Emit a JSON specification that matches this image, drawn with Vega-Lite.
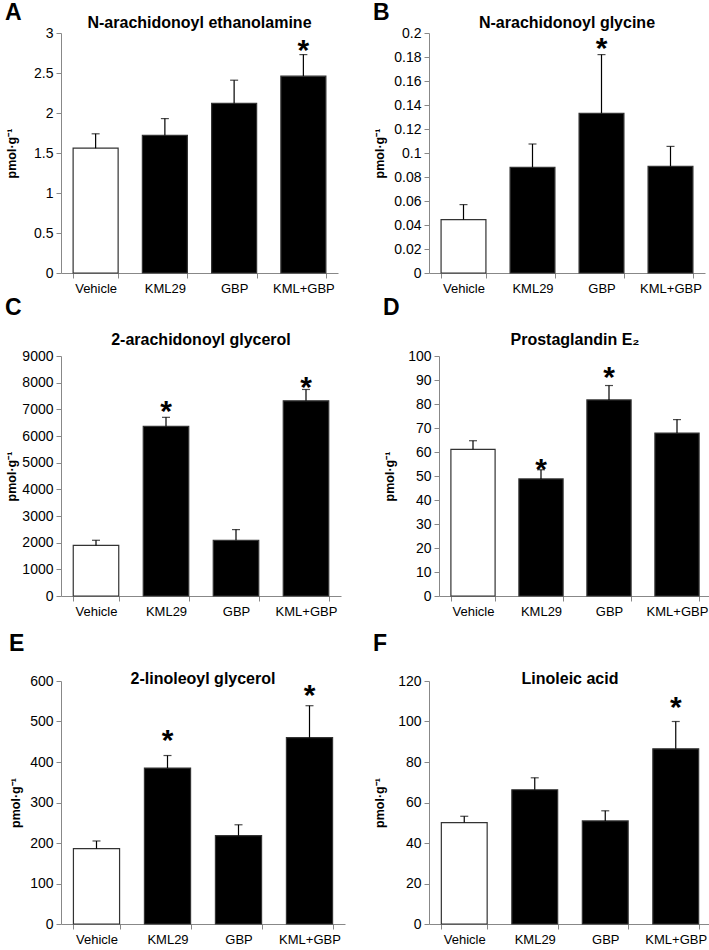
{
  "$schema": "https://vega.github.io/schema/vega-lite/v6.json",
  "padding": {"left": 5, "top": 2, "right": 0, "bottom": 0},
  "config": {
    "font": "Liberation Sans",
    "view": {"stroke": null},
    "axis": {"domainColor": "#888888", "tickColor": "#888888", "labelColor": "#000000", "labelFontSize": 14, "tickSize": 5, "grid": false, "domainWidth": 1, "tickWidth": 1, "labelOverlap": false},
    "axisX": {"labelAngle": 0, "labelFontSize": 13, "tickBand": "extent", "labelPadding": 4},
    "axisY": {"titleFontSize": 12.5, "titleFontWeight": "bold", "titleColor": "#000000", "labelPadding": 3, "minExtent": 40, "maxExtent": 40, "titlePadding": 3, "format": "~r", "labelFlush": false},
    "title": {"fontSize": 16, "fontWeight": "bold", "color": "#000000"}
  },
  "datasets": {
    "d": [
      {"panel": "A", "group": "Vehicle", "value": 1.56, "err": 1.74, "star": null},
      {"panel": "A", "group": "KML29", "value": 1.72, "err": 1.93, "star": null},
      {"panel": "A", "group": "GBP", "value": 2.12, "err": 2.41, "star": null},
      {"panel": "A", "group": "KML+GBP", "value": 2.46, "err": 2.73, "star": 2.87},
      {"panel": "B", "group": "Vehicle", "value": 0.0445, "err": 0.057, "star": null},
      {"panel": "B", "group": "KML29", "value": 0.088, "err": 0.1075, "star": null},
      {"panel": "B", "group": "GBP", "value": 0.133, "err": 0.182, "star": 0.193},
      {"panel": "B", "group": "KML+GBP", "value": 0.0888, "err": 0.1055, "star": null},
      {"panel": "C", "group": "Vehicle", "value": 1895, "err": 2090, "star": null},
      {"panel": "C", "group": "KML29", "value": 6360, "err": 6700, "star": 7190},
      {"panel": "C", "group": "GBP", "value": 2090, "err": 2490, "star": null},
      {"panel": "C", "group": "KML+GBP", "value": 7320, "err": 7745, "star": 8100},
      {"panel": "D", "group": "Vehicle", "value": 61.1, "err": 64.7, "star": null},
      {"panel": "D", "group": "KML29", "value": 48.8, "err": 52.6, "star": 56},
      {"panel": "D", "group": "GBP", "value": 81.7, "err": 87.7, "star": 94},
      {"panel": "D", "group": "KML+GBP", "value": 67.9, "err": 73.5, "star": null},
      {"panel": "E", "group": "Vehicle", "value": 186, "err": 205, "star": null},
      {"panel": "E", "group": "KML29", "value": 385, "err": 416, "star": 472},
      {"panel": "E", "group": "GBP", "value": 218, "err": 245, "star": null},
      {"panel": "E", "group": "KML+GBP", "value": 460, "err": 539, "star": 582},
      {"panel": "F", "group": "Vehicle", "value": 50.1, "err": 53.2, "star": null},
      {"panel": "F", "group": "KML29", "value": 66.3, "err": 72.2, "star": null},
      {"panel": "F", "group": "GBP", "value": 50.9, "err": 55.9, "star": null},
      {"panel": "F", "group": "KML+GBP", "value": 86.5, "err": 100, "star": 110.6}
    ]
  },
  "spacing": 2,
  "vconcat": [
    {
      "spacing": 35,
      "hconcat": [
        {
          "title": {"text": "A", "anchor": "start", "frame": "bounds", "fontSize": 23, "offset": -10},
          "vconcat": [{
            "title": {"text": "N-arachidonoyl ethanolamine", "offset": -5},
            "width": 277, "height": 240,
            "data": {"name": "d"},
            "transform": [{"filter": "datum.panel == 'A'"}],
            "encoding": {"x": {"field": "group", "type": "nominal", "sort": ["Vehicle", "KML29", "GBP", "KML+GBP"], "scale": {"paddingInner": 0.35, "paddingOuter": 0.175}, "axis": {"title": null, "labelOverlap": false}}},
            "layer": [
              {"mark": {"type": "bar", "stroke": "#333333", "strokeWidth": 1.2}, "encoding": {"y": {"field": "value", "type": "quantitative", "title": "pmol·g⁻¹", "scale": {"domain": [0, 3], "nice": false}, "axis": {"values": [0, 0.5, 1, 1.5, 2, 2.5, 3], "tickCount": 30, "labelOverlap": false}}, "fill": {"condition": {"test": "datum.group == 'Vehicle'", "value": "#ffffff"}, "value": "#000000"}}},
              {"mark": {"type": "rule", "color": "#000000", "strokeWidth": 1.2}, "encoding": {"y": {"field": "value", "type": "quantitative", "title": "pmol·g⁻¹"}, "y2": {"field": "err"}}},
              {"mark": {"type": "tick", "color": "#000000", "thickness": 1.2, "size": 8}, "encoding": {"y": {"field": "err", "type": "quantitative", "title": "pmol·g⁻¹"}}},
              {"transform": [{"filter": "datum.star != null"}], "mark": {"type": "text", "text": "*", "fontSize": 30, "fontWeight": "bold", "baseline": "middle", "dy": 8}, "encoding": {"y": {"field": "star", "type": "quantitative", "title": "pmol·g⁻¹"}}}
            ]
          }]
        },
        {
          "title": {"text": "B", "anchor": "start", "frame": "bounds", "fontSize": 23, "offset": -10},
          "vconcat": [{
            "title": {"text": "N-arachidonoyl glycine", "offset": -5},
            "width": 276, "height": 240,
            "data": {"name": "d"},
            "transform": [{"filter": "datum.panel == 'B'"}],
            "encoding": {"x": {"field": "group", "type": "nominal", "sort": ["Vehicle", "KML29", "GBP", "KML+GBP"], "scale": {"paddingInner": 0.35, "paddingOuter": 0.175}, "axis": {"title": null, "labelOverlap": false}}},
            "layer": [
              {"mark": {"type": "bar", "stroke": "#333333", "strokeWidth": 1.2}, "encoding": {"y": {"field": "value", "type": "quantitative", "title": "pmol·g⁻¹", "scale": {"domain": [0, 0.2], "nice": false}, "axis": {"values": [0, 0.02, 0.04, 0.06, 0.08, 0.1, 0.12, 0.14, 0.16, 0.18, 0.2], "tickCount": 30, "labelOverlap": false}}, "fill": {"condition": {"test": "datum.group == 'Vehicle'", "value": "#ffffff"}, "value": "#000000"}}},
              {"mark": {"type": "rule", "color": "#000000", "strokeWidth": 1.2}, "encoding": {"y": {"field": "value", "type": "quantitative", "title": "pmol·g⁻¹"}, "y2": {"field": "err"}}},
              {"mark": {"type": "tick", "color": "#000000", "thickness": 1.2, "size": 8}, "encoding": {"y": {"field": "err", "type": "quantitative", "title": "pmol·g⁻¹"}}},
              {"transform": [{"filter": "datum.star != null"}], "mark": {"type": "text", "text": "*", "fontSize": 30, "fontWeight": "bold", "baseline": "middle", "dy": 8}, "encoding": {"y": {"field": "star", "type": "quantitative", "title": "pmol·g⁻¹"}}}
            ]
          }]
        }
      ]
    },
    {
      "spacing": 42,
      "hconcat": [
        {
          "title": {"text": "C", "anchor": "start", "frame": "bounds", "fontSize": 23, "offset": 12},
          "vconcat": [{
            "title": {"text": "2-arachidonoyl glycerol", "offset": 1},
            "width": 280, "height": 240,
            "data": {"name": "d"},
            "transform": [{"filter": "datum.panel == 'C'"}],
            "encoding": {"x": {"field": "group", "type": "nominal", "sort": ["Vehicle", "KML29", "GBP", "KML+GBP"], "scale": {"paddingInner": 0.35, "paddingOuter": 0.175}, "axis": {"title": null, "minExtent": 35, "labelOverlap": false}}},
            "layer": [
              {"mark": {"type": "bar", "stroke": "#333333", "strokeWidth": 1.2}, "encoding": {"y": {"field": "value", "type": "quantitative", "title": "pmol·g⁻¹", "scale": {"domain": [0, 9000], "nice": false}, "axis": {"values": [0, 1000, 2000, 3000, 4000, 5000, 6000, 7000, 8000, 9000], "tickCount": 30, "labelOverlap": false}}, "fill": {"condition": {"test": "datum.group == 'Vehicle'", "value": "#ffffff"}, "value": "#000000"}}},
              {"mark": {"type": "rule", "color": "#000000", "strokeWidth": 1.2}, "encoding": {"y": {"field": "value", "type": "quantitative", "title": "pmol·g⁻¹"}, "y2": {"field": "err"}}},
              {"mark": {"type": "tick", "color": "#000000", "thickness": 1.2, "size": 8}, "encoding": {"y": {"field": "err", "type": "quantitative", "title": "pmol·g⁻¹"}}},
              {"transform": [{"filter": "datum.star != null"}], "mark": {"type": "text", "text": "*", "fontSize": 30, "fontWeight": "bold", "baseline": "middle", "dy": 8}, "encoding": {"y": {"field": "star", "type": "quantitative", "title": "pmol·g⁻¹"}}}
            ]
          }]
        },
        {
          "title": {"text": "D", "anchor": "start", "frame": "bounds", "fontSize": 23, "offset": 12},
          "vconcat": [{
            "title": {"text": "Prostaglandin E₂", "offset": 1},
            "width": 272, "height": 240,
            "data": {"name": "d"},
            "transform": [{"filter": "datum.panel == 'D'"}],
            "encoding": {"x": {"field": "group", "type": "nominal", "sort": ["Vehicle", "KML29", "GBP", "KML+GBP"], "scale": {"paddingInner": 0.35, "paddingOuter": 0.175}, "axis": {"title": null, "minExtent": 35, "labelOverlap": false}}},
            "layer": [
              {"mark": {"type": "bar", "stroke": "#333333", "strokeWidth": 1.2}, "encoding": {"y": {"field": "value", "type": "quantitative", "title": "pmol·g⁻¹", "scale": {"domain": [0, 100], "nice": false}, "axis": {"values": [0, 10, 20, 30, 40, 50, 60, 70, 80, 90, 100], "tickCount": 30, "labelOverlap": false}}, "fill": {"condition": {"test": "datum.group == 'Vehicle'", "value": "#ffffff"}, "value": "#000000"}}},
              {"mark": {"type": "rule", "color": "#000000", "strokeWidth": 1.2}, "encoding": {"y": {"field": "value", "type": "quantitative", "title": "pmol·g⁻¹"}, "y2": {"field": "err"}}},
              {"mark": {"type": "tick", "color": "#000000", "thickness": 1.2, "size": 8}, "encoding": {"y": {"field": "err", "type": "quantitative", "title": "pmol·g⁻¹"}}},
              {"transform": [{"filter": "datum.star != null"}], "mark": {"type": "text", "text": "*", "fontSize": 30, "fontWeight": "bold", "baseline": "middle", "dy": 8}, "encoding": {"y": {"field": "star", "type": "quantitative", "title": "pmol·g⁻¹"}}}
            ]
          }]
        }
      ]
    },
    {
      "spacing": 28,
      "hconcat": [
        {
          "title": {"text": "E", "anchor": "start", "frame": "bounds", "fontSize": 23, "offset": 15},
          "vconcat": [{
            "title": {"text": "2-linoleoyl glycerol", "offset": -13},
            "width": 284, "height": 243,
            "data": {"name": "d"},
            "transform": [{"filter": "datum.panel == 'E'"}],
            "encoding": {"x": {"field": "group", "type": "nominal", "sort": ["Vehicle", "KML29", "GBP", "KML+GBP"], "scale": {"paddingInner": 0.35, "paddingOuter": 0.175}, "axis": {"title": null, "labelOverlap": false}}},
            "layer": [
              {"mark": {"type": "bar", "stroke": "#333333", "strokeWidth": 1.2}, "encoding": {"y": {"field": "value", "type": "quantitative", "title": "pmol·g⁻¹", "scale": {"domain": [0, 600], "nice": false}, "axis": {"values": [0, 100, 200, 300, 400, 500, 600], "tickCount": 30, "minExtent": 36, "maxExtent": 36, "labelOverlap": false}}, "fill": {"condition": {"test": "datum.group == 'Vehicle'", "value": "#ffffff"}, "value": "#000000"}}},
              {"mark": {"type": "rule", "color": "#000000", "strokeWidth": 1.2}, "encoding": {"y": {"field": "value", "type": "quantitative", "title": "pmol·g⁻¹"}, "y2": {"field": "err"}}},
              {"mark": {"type": "tick", "color": "#000000", "thickness": 1.2, "size": 8}, "encoding": {"y": {"field": "err", "type": "quantitative", "title": "pmol·g⁻¹"}}},
              {"transform": [{"filter": "datum.star != null"}], "mark": {"type": "text", "text": "*", "fontSize": 30, "fontWeight": "bold", "baseline": "middle", "dy": 8}, "encoding": {"y": {"field": "star", "type": "quantitative", "title": "pmol·g⁻¹"}}}
            ]
          }]
        },
        {
          "title": {"text": "F", "anchor": "start", "frame": "bounds", "fontSize": 23, "offset": 15},
          "vconcat": [{
            "title": {"text": "Linoleic acid", "offset": -13},
            "width": 282, "height": 243,
            "data": {"name": "d"},
            "transform": [{"filter": "datum.panel == 'F'"}],
            "encoding": {"x": {"field": "group", "type": "nominal", "sort": ["Vehicle", "KML29", "GBP", "KML+GBP"], "scale": {"paddingInner": 0.35, "paddingOuter": 0.175}, "axis": {"title": null, "labelOverlap": false}}},
            "layer": [
              {"mark": {"type": "bar", "stroke": "#333333", "strokeWidth": 1.2}, "encoding": {"y": {"field": "value", "type": "quantitative", "title": "pmol·g⁻¹", "scale": {"domain": [0, 120], "nice": false}, "axis": {"values": [0, 20, 40, 60, 80, 100, 120], "tickCount": 30, "labelOverlap": false}}, "fill": {"condition": {"test": "datum.group == 'Vehicle'", "value": "#ffffff"}, "value": "#000000"}}},
              {"mark": {"type": "rule", "color": "#000000", "strokeWidth": 1.2}, "encoding": {"y": {"field": "value", "type": "quantitative", "title": "pmol·g⁻¹"}, "y2": {"field": "err"}}},
              {"mark": {"type": "tick", "color": "#000000", "thickness": 1.2, "size": 8}, "encoding": {"y": {"field": "err", "type": "quantitative", "title": "pmol·g⁻¹"}}},
              {"transform": [{"filter": "datum.star != null"}], "mark": {"type": "text", "text": "*", "fontSize": 30, "fontWeight": "bold", "baseline": "middle", "dy": 8}, "encoding": {"y": {"field": "star", "type": "quantitative", "title": "pmol·g⁻¹"}}}
            ]
          }]
        }
      ]
    }
  ]
}
